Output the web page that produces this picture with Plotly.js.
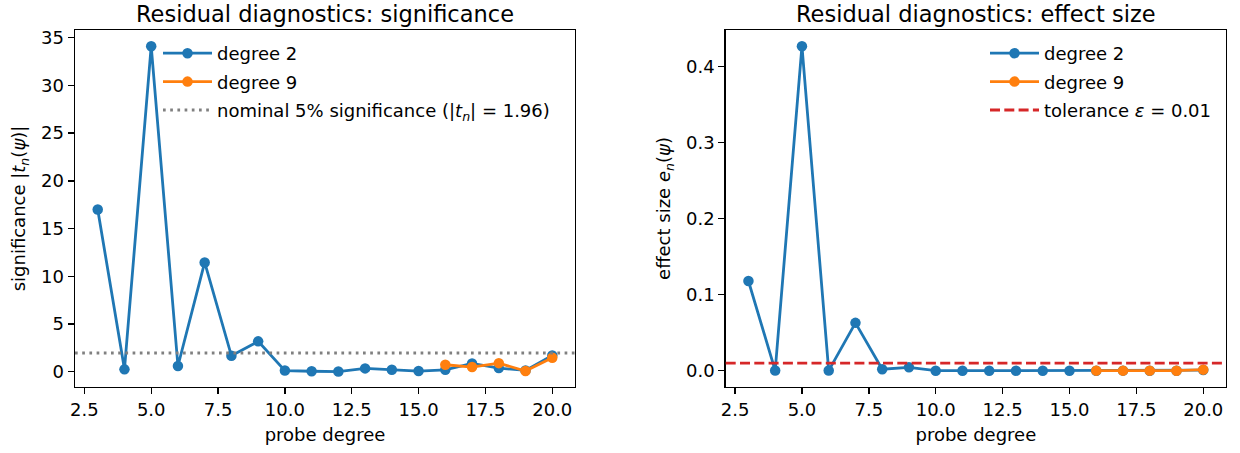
<!DOCTYPE html>
<html>
<head>
<meta charset="utf-8">
<script src="https://cdn.plot.ly/plotly-3.0.1.min.js"></script>
<style>html,body{margin:0;padding:0;background:#fff;}#chart{width:1240px;height:453px;}</style>
</head>
<body>
<div id="chart"></div>
<script>
// ---- data ----
const probeDeg2 = [3,4,5,6,7,8,9,10,11,12,13,14,15,16,17,18,19,20];
const probeDeg9 = [16,17,18,19,20];
const sigDeg2 = [17.0,0.25,34.1,0.6,11.45,1.67,3.18,0.12,0.05,0.02,0.35,0.2,0.07,0.2,0.87,0.38,0.14,1.7];
const sigDeg9 = [0.73,0.49,0.9,0.07,1.47];
const effDeg2 = [0.118,0.0003,0.4266,0.0003,0.063,0.002,0.0045,0.0001,0.0001,0.0001,0.0001,0.0001,0.0001,0.0001,0.0002,0.0001,0.0001,0.001];
const effDeg9 = [0.0002,0.0002,0.0002,0.0001,0.0015];
const nominalSig = 1.96;
const tolerance = 0.01;
const xTicks = [2.5,5.0,7.5,10.0,12.5,15.0,17.5,20.0];
const sigTicks = [0,5,10,15,20,25,30,35];
const effTicks = [0.0,0.1,0.2,0.3,0.4];

const BLUE = '#1f77b4', ORANGE = '#ff7f0e', GRAY = '#808080', RED = '#d62728';
const FONT = 'DejaVu Sans, sans-serif';
const FS = 18;
const LW = 2.8;
const DOT = '2.7px,4.5px';
const DASH = '10px,4.3px';

function series(x, y, color, name, xa, ya, leg, group) {
  return {x: x, y: y, type: 'scatter', mode: 'lines+markers', name: name,
    line: {color: color, width: LW}, marker: {color: color, size: 10.5},
    xaxis: xa, yaxis: ya, legend: leg, legendgroup: group, hoverinfo: 'skip'};
}
function legendLine(color, dash, name, xa, ya, leg, group) {
  return {x: [null], y: [null], type: 'scatter', mode: 'lines', name: name,
    line: {color: color, width: LW, dash: dash}, xaxis: xa, yaxis: ya,
    legend: leg, legendgroup: group, hoverinfo: 'skip'};
}

const traces = [
  series(probeDeg2, sigDeg2, BLUE, 'degree 2', 'x', 'y', 'legend', 'a1'),
  series(probeDeg9, sigDeg9, ORANGE, 'degree 9', 'x', 'y', 'legend', 'a2'),
  legendLine(GRAY, DOT, 'nominal 5% significance (|<i>t<sub>n</sub></i>| = 1.96)', 'x', 'y', 'legend', 'a3'),
  series(probeDeg2, effDeg2, BLUE, 'degree 2', 'x2', 'y2', 'legend2', 'b1'),
  series(probeDeg9, effDeg9, ORANGE, 'degree 9', 'x2', 'y2', 'legend2', 'b2'),
  legendLine(RED, DASH, 'tolerance <i>ε</i> = 0.01', 'x2', 'y2', 'legend2', 'b3')
];

function xaxis(domain, anchor) {
  return {domain: domain, anchor: anchor, range: [2.15, 20.85],
    tickmode: 'array', tickvals: xTicks, ticktext: xTicks.map(v => v.toFixed(1)),
    ticks: 'outside', ticklen: 6, tickwidth: 1.4, tickcolor: '#000',
    showline: true, mirror: true, linecolor: '#000', linewidth: 1.4,
    showgrid: false, zeroline: false,
    tickfont: {family: FONT, size: FS, color: '#000'},
    title: {text: 'probe degree', font: {family: FONT, size: FS, color: '#000'}, standoff: 9}};
}
function yaxis(domain, anchor, range, ticks, fmt, title) {
  return {domain: domain, anchor: anchor, range: range,
    tickmode: 'array', tickvals: ticks, ticktext: ticks.map(v => v.toFixed(fmt)),
    ticks: 'outside', ticklen: 6, tickwidth: 1.4, tickcolor: '#000',
    showline: true, mirror: true, linecolor: '#000', linewidth: 1.4,
    showgrid: false, zeroline: false,
    tickfont: {family: FONT, size: FS, color: '#000'},
    title: {text: title, font: {family: FONT, size: FS, color: '#000'}, standoff: 10}};
}

const yDom = [66/453, 423/453];
const legFont = {family: FONT, size: FS, color: '#000'};
const layout = {
  width: 1240, height: 453,
  margin: {l: 0, r: 0, t: 0, b: 0},
  paper_bgcolor: '#fff', plot_bgcolor: '#fff',
  showlegend: true,
  font: {family: FONT, color: '#000'},
  xaxis: xaxis([75/1240, 575/1240], 'y'),
  yaxis: yaxis(yDom, 'x', [-1.6, 35.8], sigTicks, 0, 'significance |<i>t<sub>n</sub></i>(<i>ψ</i>)|'),
  xaxis2: xaxis([725.7/1240, 1226/1240], 'y2'),
  yaxis2: yaxis(yDom, 'x2', [-0.0213, 0.4479], effTicks, 1, 'effect size <i>e<sub>n</sub></i>(<i>ψ</i>)'),
  legend: {x: 158/1240, y: 1 - 35/453, xanchor: 'left', yanchor: 'top', bgcolor: 'rgba(0,0,0,0)',
    font: legFont, traceorder: 'grouped', tracegroupgap: 2, itemwidth: 49},
  legend2: {x: 985/1240, y: 1 - 35/453, xanchor: 'left', yanchor: 'top', bgcolor: 'rgba(0,0,0,0)',
    font: legFont, traceorder: 'grouped', tracegroupgap: 2, itemwidth: 49},
  shapes: [
    {type: 'line', xref: 'x domain', yref: 'y', x0: 0, x1: 1, y0: nominalSig, y1: nominalSig,
     line: {color: GRAY, width: LW, dash: DOT}},
    {type: 'line', xref: 'x2 domain', yref: 'y2', x0: 0, x1: 1, y0: tolerance, y1: tolerance,
     line: {color: RED, width: LW, dash: DASH}}
  ],
  annotations: [
    {text: 'Residual diagnostics: significance', xref: 'x domain', yref: 'y domain', x: 0.5, y: 1,
     xanchor: 'center', yanchor: 'bottom', yshift: 1, showarrow: false,
     font: {family: FONT, size: 22.5, color: '#000'}},
    {text: 'Residual diagnostics: effect size', xref: 'x2 domain', yref: 'y2 domain', x: 0.5, y: 1,
     xanchor: 'center', yanchor: 'bottom', yshift: 1, showarrow: false,
     font: {family: FONT, size: 22.5, color: '#000'}}
  ]
};

Plotly.newPlot('chart', traces, layout, {staticPlot: true, displayModeBar: false});
</script>
</body>
</html>
